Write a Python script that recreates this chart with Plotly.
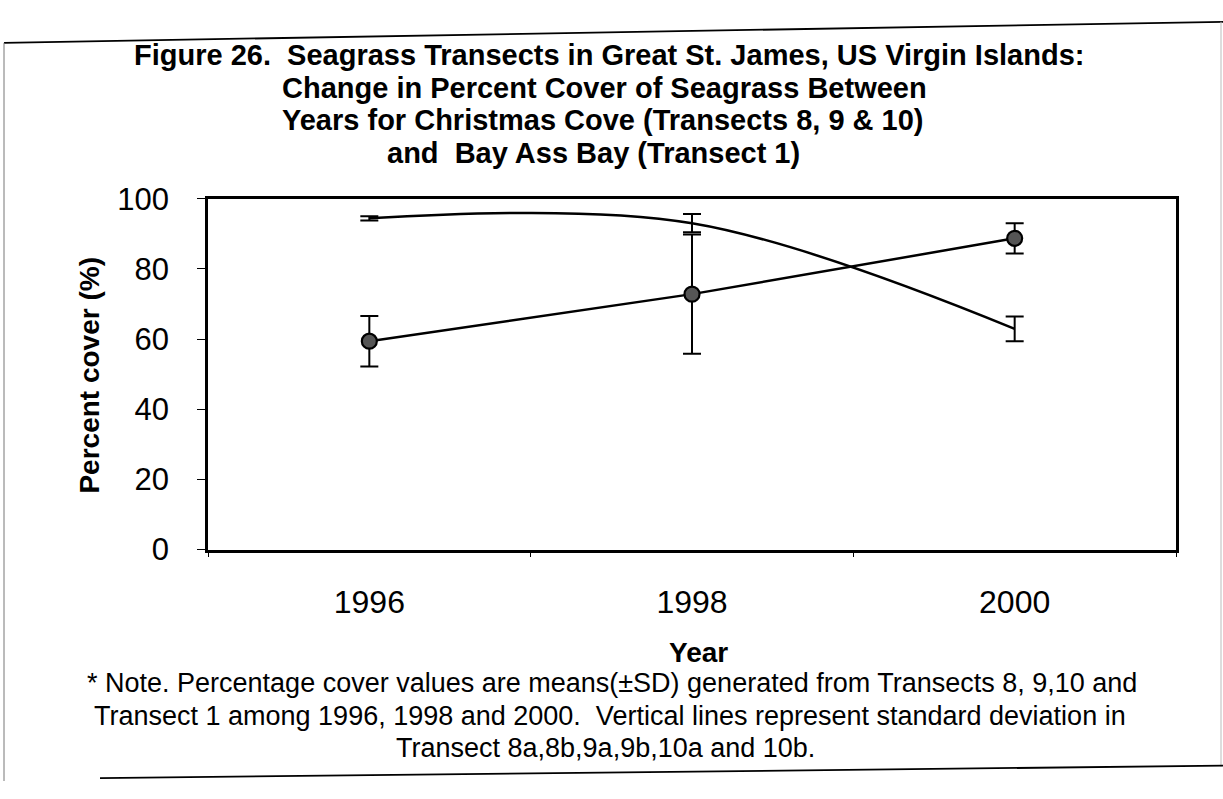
import plotly.graph_objects as go

# Survey years and mean percent cover (± SD)
years = [1996, 1998, 2000]
cove_mean = [59.4, 72.8, 88.7]      # circles
cove_sd = [7.2, 17.0, 4.3]
bay_mean = [94.4, 93.0, 62.9]       # smoothed line, no markers
bay_sd = [0.6, 2.6, 3.5]

year_labels = ["1996", "1998", "2000"]
boundary_ticks = [1995, 1997, 1999, 2001]
y_ticks = [0, 20, 40, 60, 80, 100]

title_lines = [
    "Figure 26.  Seagrass Transects in Great St. James, US Virgin Islands:",
    "Change in Percent Cover of Seagrass Between",
    "Years for Christmas Cove (Transects 8, 9 & 10)",
    "and  Bay Ass Bay (Transect 1)",
]
note_lines = [
    "* Note. Percentage cover values are means(\u00b1SD) generated from Transects 8, 9,10 and",
    "Transect 1 among 1996, 1998 and 2000.  Vertical lines represent standard deviation in",
    "Transect 8a,8b,9a,9b,10a and 10b.",
]

W, H = 1223, 799
FONT = "Liberation Sans, Arial, sans-serif"


def px(x):
    return x / W


def py(y):
    return 1 - y / H


fig = go.Figure()

fig.add_trace(go.Scatter(
    x=years, y=bay_mean, mode="lines",
    line=dict(color="black", width=2.5, shape="spline", smoothing=1),
    error_y=dict(type="data", array=bay_sd, visible=True,
                 color="black", thickness=2, width=9),
    showlegend=False,
))

fig.add_trace(go.Scatter(
    x=years, y=cove_mean, mode="lines+markers",
    line=dict(color="black", width=2.5),
    marker=dict(symbol="circle", size=15, color="#555555",
                line=dict(color="black", width=2.2)),
    error_y=dict(type="data", array=cove_sd, visible=True,
                 color="black", thickness=2, width=9),
    showlegend=False,
))

x0, x1 = 208, 1176
y_top, y_bot = 190, 557

fig.update_layout(
    width=W, height=H,
    margin=dict(l=0, r=0, t=0, b=0),
    paper_bgcolor="white", plot_bgcolor="white",
    font=dict(family=FONT, color="black"),
    xaxis=dict(
        domain=[px(x0), px(x1)], range=[1995, 2001],
        tickmode="array", tickvals=years, ticktext=year_labels,
        ticks="", ticklabelstandoff=22,
        tickfont=dict(size=32, family=FONT),
        minor=dict(tickmode="array", tickvals=boundary_ticks,
                   ticks="outside", ticklen=5, tickwidth=1, tickcolor="black"),
        showline=True, linecolor="black", linewidth=2.5, mirror=True,
        showgrid=False, zeroline=False, fixedrange=True,
    ),
    yaxis=dict(
        domain=[py(y_bot), py(y_top)], range=[0, 100],
        tickmode="array", tickvals=y_ticks,
        ticks="outside", ticklen=8, tickwidth=1.2, tickcolor="black",
        ticklabelstandoff=22,
        tickfont=dict(size=31, family=FONT),
        showline=True, linecolor="black", linewidth=2.5, mirror=True,
        showgrid=False, zeroline=False, fixedrange=True,
    ),
)

ann = []
# title block: first line spans the width, the rest are indented
title_pos = [(132, 40), (280, 74), (280, 108), (385, 142)]
for text, (x, y) in zip(title_lines, title_pos):
    ann.append(dict(text=f"<b>{text}</b>", x=px(x), y=py(y), xref="paper", yref="paper",
                    showarrow=False, xanchor="left", yanchor="middle",
                    font=dict(size=29, family=FONT)))
# axis titles
ann.append(dict(text="<b>Percent cover (%)</b>", x=px(90), y=py(375), xref="paper", yref="paper",
                showarrow=False, textangle=-90, xanchor="center", yanchor="middle",
                font=dict(size=28, family=FONT)))
ann.append(dict(text="<b>Year</b>", x=px(698), y=py(665), xref="paper", yref="paper",
                showarrow=False, xanchor="center", yanchor="middle",
                font=dict(size=28, family=FONT)))
# note
note_pos = [(612, 697), (610, 731), (605, 765)]
for text, (x, y) in zip(note_lines, note_pos):
    ann.append(dict(text=text, x=px(x), y=py(y), xref="paper", yref="paper",
                    showarrow=False, xanchor="center", yanchor="middle",
                    font=dict(size=27, family=FONT)))
fig.update_layout(annotations=ann)

# page frame
frame = [
    dict(x0=4, y0=27, x1=1223, y1=5, color="black", width=1.8),
    dict(x0=4, y0=27, x1=4, y1=799, color="#777", width=1),
    dict(x0=1221, y0=5, x1=1221, y1=784, color="#bbb", width=1),
    dict(x0=100, y0=796, x1=1223, y1=783, color="black", width=1.8),
]
for f in frame:
    fig.add_shape(type="line", xref="paper", yref="paper",
                  x0=px(f["x0"]), y0=py(f["y0"]), x1=px(f["x1"]), y1=py(f["y1"]),
                  line=dict(color=f["color"], width=f["width"]))

fig.write_html("out.html")
